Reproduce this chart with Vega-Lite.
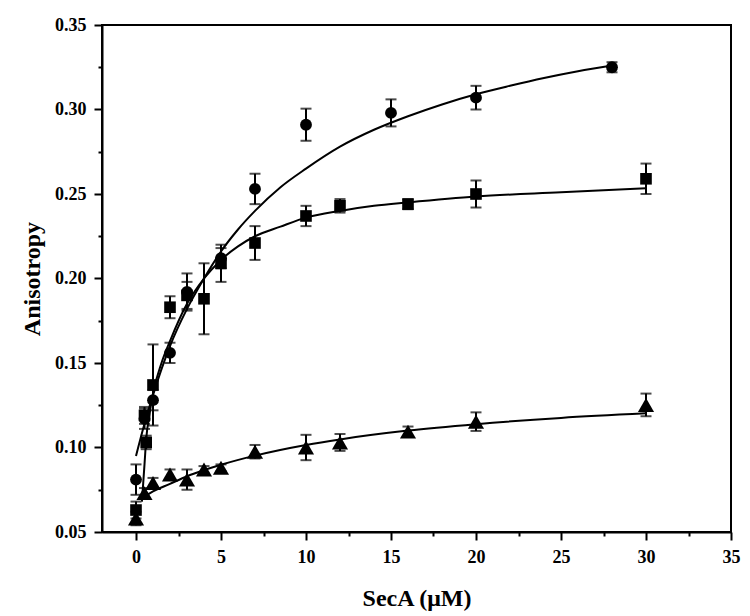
{
  "$schema": "https://vega.github.io/schema/vega-lite/v6.json",
  "width": 629,
  "height": 507,
  "autosize": {"type": "none"},
  "padding": {"left": 102, "top": 25, "right": 19, "bottom": 84},
  "background": "white",
  "config": {
    "view": {"stroke": "black", "strokeWidth": 2},
    "axis": {
      "domainColor": "black", "domainWidth": 2, "tickColor": "black", "tickWidth": 2,
      "labelFont": "Liberation Serif", "labelFontWeight": "bold", "labelFontSize": 18, "labelColor": "black",
      "titleFont": "Liberation Serif", "titleFontWeight": "bold", "titleFontSize": 24, "titleColor": "black",
      "grid": false
    }
  },
  "datasets": {
    "points": [
      {"series": "c", "x": 0, "y": 0.081, "e": 0.009},
      {"series": "c", "x": 0.5, "y": 0.117, "e": 0.006},
      {"series": "c", "x": 1, "y": 0.128, "e": 0.006},
      {"series": "c", "x": 2, "y": 0.156, "e": 0.006},
      {"series": "c", "x": 3, "y": 0.192, "e": 0.011},
      {"series": "c", "x": 5, "y": 0.212, "e": 0.006},
      {"series": "c", "x": 7, "y": 0.253, "e": 0.009},
      {"series": "c", "x": 10, "y": 0.291, "e": 0.0095},
      {"series": "c", "x": 15, "y": 0.298, "e": 0.008},
      {"series": "c", "x": 20, "y": 0.307, "e": 0.007},
      {"series": "c", "x": 28, "y": 0.325, "e": 0.003},
      {"series": "s", "x": 0, "y": 0.063, "e": 0.005},
      {"series": "s", "x": 0.5, "y": 0.119, "e": 0.005},
      {"series": "s", "x": 0.6, "y": 0.103, "e": 0.004},
      {"series": "s", "x": 1, "y": 0.137, "e": 0.024},
      {"series": "s", "x": 2, "y": 0.183, "e": 0.0065},
      {"series": "s", "x": 3, "y": 0.19, "e": 0.008},
      {"series": "s", "x": 4, "y": 0.188, "e": 0.021},
      {"series": "s", "x": 5, "y": 0.209, "e": 0.011},
      {"series": "s", "x": 7, "y": 0.221, "e": 0.01},
      {"series": "s", "x": 10, "y": 0.237, "e": 0.006},
      {"series": "s", "x": 12, "y": 0.243, "e": 0.004},
      {"series": "s", "x": 16, "y": 0.244, "e": 0.003},
      {"series": "s", "x": 20, "y": 0.25, "e": 0.008},
      {"series": "s", "x": 30, "y": 0.259, "e": 0.009},
      {"series": "t", "x": 0, "y": 0.058, "e": 0.004},
      {"series": "t", "x": 0.5, "y": 0.073, "e": 0.003},
      {"series": "t", "x": 1, "y": 0.079, "e": 0.003},
      {"series": "t", "x": 2, "y": 0.084, "e": 0.003},
      {"series": "t", "x": 3, "y": 0.081, "e": 0.006},
      {"series": "t", "x": 4, "y": 0.087, "e": 0.002},
      {"series": "t", "x": 5, "y": 0.088, "e": 0.002},
      {"series": "t", "x": 7, "y": 0.0975, "e": 0.004},
      {"series": "t", "x": 10, "y": 0.1, "e": 0.0075},
      {"series": "t", "x": 12, "y": 0.103, "e": 0.005},
      {"series": "t", "x": 16, "y": 0.1094, "e": 0.003},
      {"series": "t", "x": 20, "y": 0.1153, "e": 0.0055},
      {"series": "t", "x": 30, "y": 0.1252, "e": 0.0067}
    ],
    "curves": [
      {"series": "c", "x": 0, "y": 0.095},
      {"series": "c", "x": 0.5, "y": 0.114},
      {"series": "c", "x": 1, "y": 0.131},
      {"series": "c", "x": 2, "y": 0.160},
      {"series": "c", "x": 3, "y": 0.182},
      {"series": "c", "x": 4, "y": 0.200},
      {"series": "c", "x": 5, "y": 0.216},
      {"series": "c", "x": 6, "y": 0.229},
      {"series": "c", "x": 7, "y": 0.240},
      {"series": "c", "x": 8.5, "y": 0.254},
      {"series": "c", "x": 10, "y": 0.265},
      {"series": "c", "x": 12, "y": 0.278},
      {"series": "c", "x": 14, "y": 0.288},
      {"series": "c", "x": 16, "y": 0.296},
      {"series": "c", "x": 18, "y": 0.303},
      {"series": "c", "x": 20, "y": 0.309},
      {"series": "c", "x": 22, "y": 0.314},
      {"series": "c", "x": 24, "y": 0.3186},
      {"series": "c", "x": 26, "y": 0.3226},
      {"series": "c", "x": 28, "y": 0.326},
      {"series": "s", "x": 0.35, "y": 0.068},
      {"series": "s", "x": 0.5, "y": 0.09},
      {"series": "s", "x": 0.6, "y": 0.105},
      {"series": "s", "x": 0.8, "y": 0.12},
      {"series": "s", "x": 1, "y": 0.132},
      {"series": "s", "x": 1.5, "y": 0.15},
      {"series": "s", "x": 2, "y": 0.163},
      {"series": "s", "x": 3, "y": 0.185},
      {"series": "s", "x": 4, "y": 0.2},
      {"series": "s", "x": 5, "y": 0.211},
      {"series": "s", "x": 6, "y": 0.219},
      {"series": "s", "x": 7, "y": 0.225},
      {"series": "s", "x": 8.5, "y": 0.2307},
      {"series": "s", "x": 10, "y": 0.236},
      {"series": "s", "x": 12, "y": 0.24},
      {"series": "s", "x": 14, "y": 0.243},
      {"series": "s", "x": 16, "y": 0.245},
      {"series": "s", "x": 20, "y": 0.2485},
      {"series": "s", "x": 25, "y": 0.251},
      {"series": "s", "x": 30, "y": 0.2534},
      {"series": "t", "x": 0.35, "y": 0.07},
      {"series": "t", "x": 1, "y": 0.074},
      {"series": "t", "x": 2, "y": 0.0785},
      {"series": "t", "x": 3, "y": 0.083},
      {"series": "t", "x": 4, "y": 0.0866},
      {"series": "t", "x": 5, "y": 0.0898},
      {"series": "t", "x": 7, "y": 0.0952},
      {"series": "t", "x": 10, "y": 0.1015},
      {"series": "t", "x": 12, "y": 0.1048},
      {"series": "t", "x": 16, "y": 0.11},
      {"series": "t", "x": 20, "y": 0.1138},
      {"series": "t", "x": 25, "y": 0.1175},
      {"series": "t", "x": 30, "y": 0.1202}
    ]
  },
  "encoding": {
    "x": {
      "field": "x", "type": "quantitative",
      "scale": {"domain": [-2, 35], "nice": false, "zero": false},
      "axis": {
        "title": "SecA (μM)",
        "values": [0, 2.5, 5, 7.5, 10, 12.5, 15, 17.5, 20, 22.5, 25, 27.5, 30, 32.5, 35],
        "labelExpr": "datum.value % 5 === 0 ? datum.label : ''",
        "tickSize": {"condition": {"test": "datum.value % 5 === 0", "value": 8}, "value": 4},
        "labelPadding": 8,
        "titlePadding": 20,
        "labelFlush": false
      }
    },
    "y": {
      "field": "y", "type": "quantitative",
      "scale": {"domain": [0.05, 0.35], "nice": false, "zero": false},
      "axis": {
        "title": "Anisotropy",
        "values": [0.05, 0.075, 0.1, 0.125, 0.15, 0.175, 0.2, 0.225, 0.25, 0.275, 0.3, 0.325, 0.35],
        "format": ".2f",
        "labelExpr": "round(datum.value * 1000) % 50 === 0 ? datum.label : ''",
        "tickSize": {"condition": {"test": "round(datum.value * 1000) % 50 === 0", "value": 8}, "value": 4},
        "labelPadding": 8,
        "titlePadding": 10,
        "labelFlush": false
      }
    }
  },
  "layer": [
    {
      "data": {"name": "curves"},
      "mark": {"type": "line", "color": "black", "strokeWidth": 2, "interpolate": "monotone", "clip": true},
      "encoding": {"detail": {"field": "series"}}
    },
    {
      "data": {"name": "points"},
      "transform": [
        {"calculate": "datum.y - datum.e", "as": "lo"},
        {"calculate": "datum.y + datum.e", "as": "hi"}
      ],
      "layer": [
        {
          "mark": {"type": "rule", "color": "black", "strokeWidth": 2},
          "encoding": {"y": {"field": "lo", "type": "quantitative"}, "y2": {"field": "hi"}}
        },
        {
          "mark": {"type": "tick", "color": "black", "orient": "horizontal", "size": 11, "thickness": 2},
          "encoding": {"y": {"field": "lo", "type": "quantitative"}}
        },
        {
          "mark": {"type": "tick", "color": "black", "orient": "horizontal", "size": 11, "thickness": 2},
          "encoding": {"y": {"field": "hi", "type": "quantitative"}}
        },
        {
          "mark": {"type": "point", "filled": true, "opacity": 1, "color": "black"},
          "encoding": {
            "shape": {"field": "series", "type": "nominal", "scale": {"domain": ["c", "s", "t"], "range": ["circle", "square", "triangle-up"]}, "legend": null},
            "size": {"field": "series", "type": "nominal", "scale": {"type": "ordinal", "domain": ["c", "s", "t"], "range": [140, 135, 260]}, "legend": null}
          }
        }
      ]
    }
  ]
}
